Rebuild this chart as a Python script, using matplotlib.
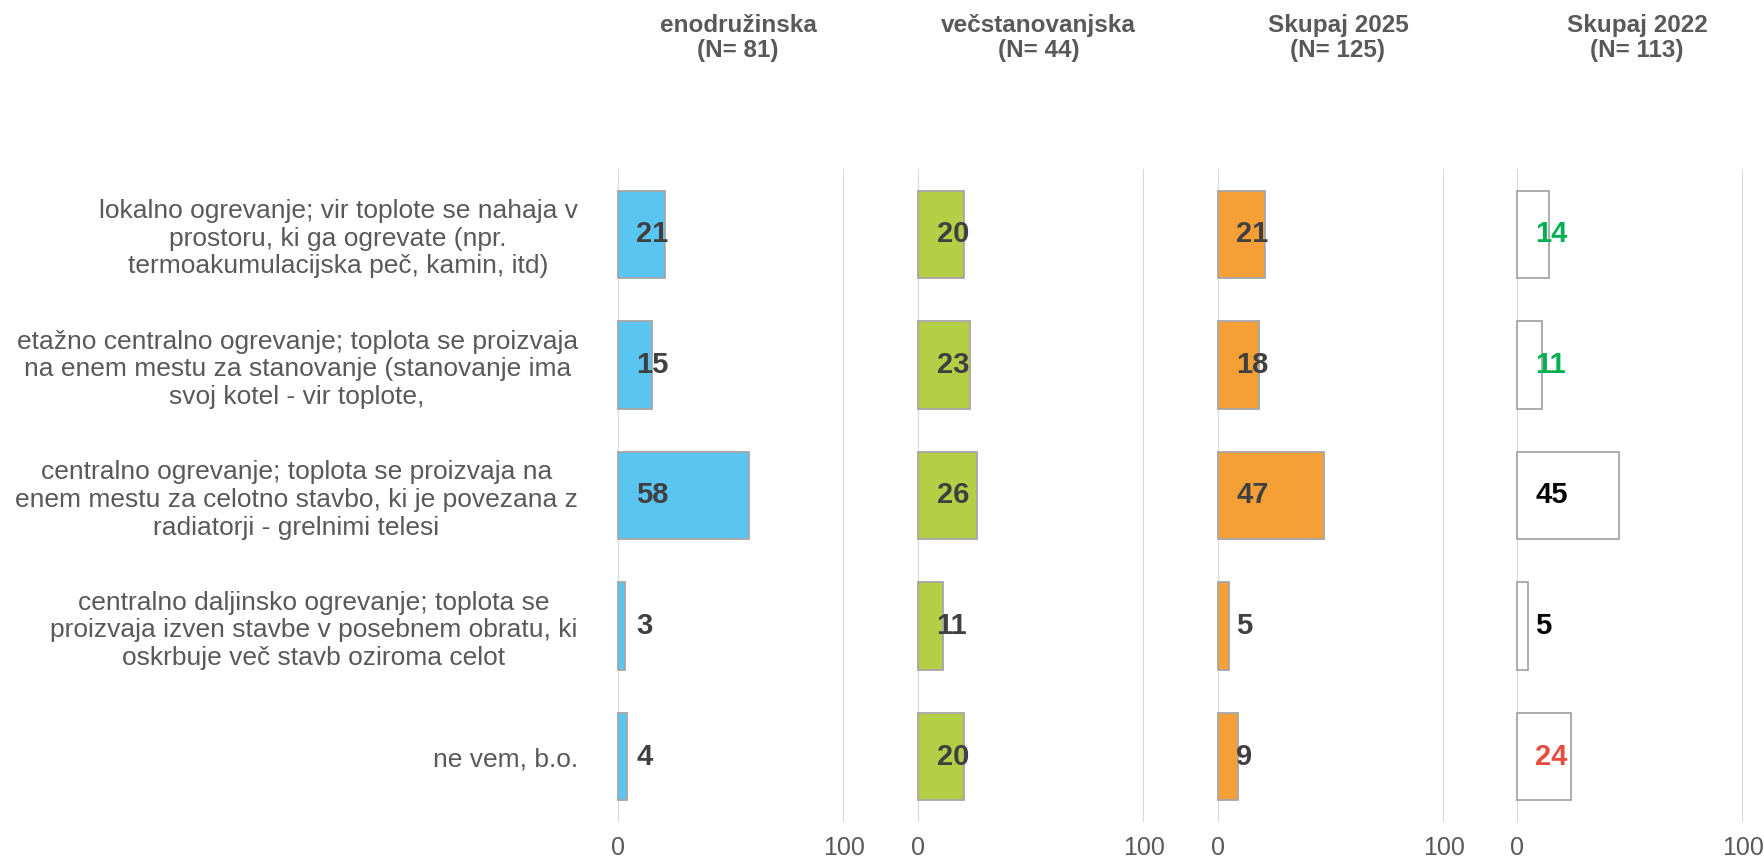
import matplotlib
matplotlib.use('Agg')
import matplotlib.pyplot as plt

plt.rcParams['font.family'] = ['Liberation Sans', 'DejaVu Sans']

categories = [
    'lokalno ogrevanje; vir toplote se nahaja v\nprostoru, ki ga ogrevate (npr.\ntermoakumulacijska peč, kamin, itd)',
    'etažno centralno ogrevanje; toplota se proizvaja\nna enem mestu za stanovanje (stanovanje ima\nsvoj kotel - vir toplote,',
    'centralno ogrevanje; toplota se proizvaja na\nenem mestu za celotno stavbo, ki je povezana z\nradiatorji - grelnimi telesi',
    'centralno daljinsko ogrevanje; toplota se\nproizvaja izven stavbe v posebnem obratu, ki\noskrbuje več stavb oziroma celot',
    'ne vem, b.o.',
]

panel_titles = ['enodružinska\n(N= 81)', 'večstanovanjska\n(N= 44)',
                'Skupaj 2025\n(N= 125)', 'Skupaj 2022\n(N= 113)']

enodruzinska = [21, 15, 58, 3, 4]
vecstanovanjska = [20, 23, 26, 11, 20]
skupaj_2025 = [21, 18, 47, 5, 9]
skupaj_2022 = [14, 11, 45, 5, 24]

series = [enodruzinska, vecstanovanjska, skupaj_2025, skupaj_2022]
bar_colors = ['#5BC5F2', '#B4CE45', '#F4A037', 'white']
dark = '#404040'
label_colors = [
    [dark] * 5,
    [dark] * 5,
    [dark] * 5,
    ['#00B050', '#00B050', 'black', 'black', '#E84C3D'],
]

W, H = 1765, 861
fig = plt.figure(figsize=(W / 100, H / 100), dpi=100)

lefts = [618, 918.5, 1218, 1517]
panel_w = 226
bottom, top = 822, 169

y = list(range(len(categories)))

for k, left in enumerate(lefts):
    ax = fig.add_axes([left / W, 1 - bottom / H, panel_w / W, (bottom - top) / H])
    bars = ax.barh(y, series[k], height=0.67, color=bar_colors[k],
                   edgecolor='#A6A6A6', linewidth=1.3, zorder=3)
    for b in bars:
        b.set_clip_on(False)
    for i, v in enumerate(series[k]):
        ax.annotate(str(v), xy=(0, i), xytext=(13, 0), textcoords='offset points',
                    ha='left', va='center', fontsize=21, fontweight='bold',
                    color=label_colors[k][i], zorder=4)
    ax.set_xlim(0, 100)
    ax.set_ylim(len(categories) - 0.5, -0.5)
    ax.set_xticks([0, 100])
    ax.grid(axis='x', color='#D9D9D9', linewidth=1.5, zorder=0)
    ax.tick_params(axis='x', length=0, pad=10, labelsize=18, labelcolor='#595959')
    for s in ax.spines.values():
        s.set_visible(False)
    if k == 0:
        ax.set_yticks(y)
        ax.set_yticklabels(categories, fontsize=19, color='#595959', linespacing=1.2)
        ax.tick_params(axis='y', length=0, pad=29)
        for lab in ax.get_yticklabels():
            lab.set_multialignment('center')
    else:
        ax.set_yticks([])
    fig.text((left + panel_w / 2 + 7) / W, 1 - 38 / H, panel_titles[k],
             ha='center', va='center', fontsize=17.5, fontweight='bold',
             color='#595959', linespacing=1.15)

fig.savefig('out.png', dpi=100, facecolor='white')
